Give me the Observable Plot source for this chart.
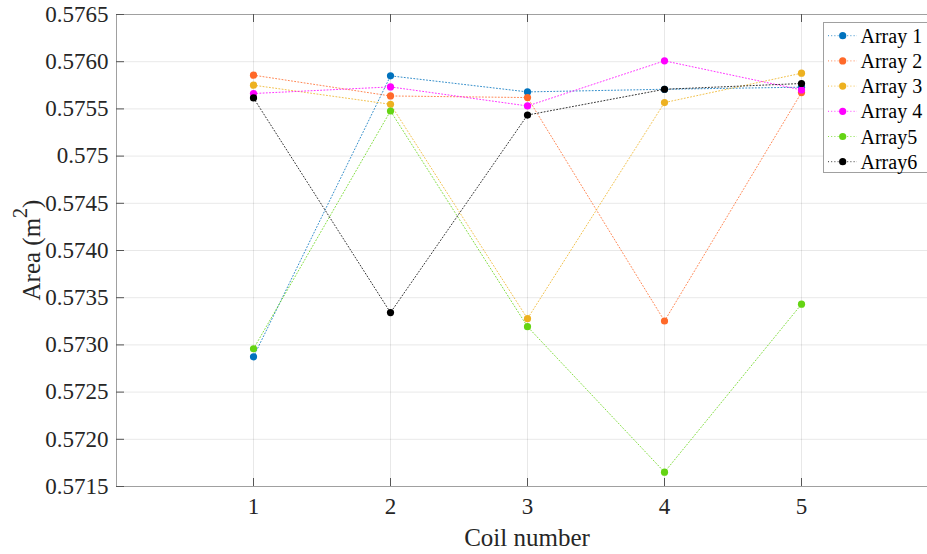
<!DOCTYPE html>
<html><head><meta charset="utf-8">
<script src="https://cdn.jsdelivr.net/npm/d3@7"></script>
<script src="https://cdn.jsdelivr.net/npm/@observablehq/plot@0.6"></script>
<style>body{margin:0;background:#fff}</style>
</head><body><div id="chart"></div>
<script>
const coils = [1, 2, 3, 4, 5];
const seriesNames = ["Array 1", "Array 2", "Array 3", "Array 4", "Array5", "Array6"];
const array1 = [0.572874, 0.575850, 0.575680, 0.575708, 0.575730];
const array2 = [0.575857, 0.575637, 0.575620, 0.573253, 0.575673];
const array3 = [0.575751, 0.575549, 0.573278, 0.575567, 0.575878];
const array4 = [0.575663, 0.575733, 0.575531, 0.576009, 0.575701];
const array5 = [0.572959, 0.575478, 0.573193, 0.571652, 0.573431];
const array6 = [0.575616, 0.573342, 0.575435, 0.575708, 0.575769];
const seriesColors = ["#0072BD", "#FF6929", "#EDB120", "#FF00FF", "#64D413", "#000000"];
const xTicks = [1, 2, 3, 4, 5];
const xTickLabels = ["1", "2", "3", "4", "5"];
const yTicks = [0.5715, 0.5720, 0.5725, 0.5730, 0.5735, 0.5740, 0.5745, 0.5750, 0.5755, 0.5760, 0.5765];
const yTickLabels = ["0.5715", "0.5720", "0.5725", "0.5730", "0.5735", "0.5740", "0.5745", "0.575", "0.5755", "0.5760", "0.5765"];

const allSeries = [array1, array2, array3, array4, array5, array6];
const rows = allSeries.map((vals, s) => vals.map((v, i) => ({series: seriesNames[s], coil: coils[i], area: v})));

const W = 927, H = 554, mL = 116, mT = 14, mB = 68, mR = -11;
const innerH = H - mT - mB, innerW = W - mL - mR;

const seriesMarks = rows.flatMap((data, s) => [
  Plot.line(data, {x: "coil", y: "area", stroke: seriesColors[s], strokeWidth: 1, strokeDasharray: "1,2.2", strokeOpacity: 0.8}),
  Plot.dot(data, {x: "coil", y: "area", fill: seriesColors[s], r: 3.6, stroke: "none"})
]);

const chart = Plot.plot({
  width: W, height: H,
  marginLeft: mL, marginTop: mT, marginBottom: mB, marginRight: mR,
  style: {fontFamily: "'Liberation Serif', 'DejaVu Serif', serif", fontSize: "23px", color: "#262626", background: "#fff"},
  x: {domain: [0, 6]},
  y: {domain: [0.5715, 0.5765]},
  marks: [
    Plot.gridX(xTicks, {stroke: "#000", strokeOpacity: 0.09}),
    Plot.gridY(yTicks, {stroke: "#000", strokeOpacity: 0.09}),
    Plot.frame({stroke: "#a0a0a0"}),
    Plot.tickX(xTicks, {x: d => d, insetTop: innerH - 8, stroke: "#555"}),
    Plot.tickX(xTicks, {x: d => d, insetBottom: innerH - 8, stroke: "#555"}),
    Plot.tickY(yTicks, {y: d => d, insetRight: innerW - 8, stroke: "#555"}),
    Plot.axisX(xTicks, {tickSize: 0, tickPadding: 11, label: null, fill: "#262626", tickFormat: d => xTickLabels[xTicks.indexOf(d)]}),
    Plot.axisY(yTicks, {tickSize: 0, tickPadding: 8, label: null, fill: "#262626", tickFormat: d => yTickLabels[yTicks.indexOf(d)]}),
    ...seriesMarks
  ]
});
document.getElementById("chart").append(chart);

const svg = d3.select(chart);
// x label
svg.append("text").attr("x", 527).attr("y", 537).attr("text-anchor", "middle")
  .attr("dominant-baseline", "central").attr("font-size", 25).attr("fill", "#262626").text("Coil number");
// y label with superscript
const yl = svg.append("text").attr("transform", "translate(31,250) rotate(-90)")
  .attr("text-anchor", "middle").attr("dominant-baseline", "central").attr("font-size", 25).attr("fill", "#262626");
yl.append("tspan").text("Area (m");
yl.append("tspan").attr("baseline-shift", "super").attr("font-size", 20).text("2");
yl.append("tspan").text(")");

// legend
const lg = svg.append("g");
lg.append("rect").attr("x", 823.5).attr("y", 22.5).attr("width", 110).attr("height", 150)
  .attr("fill", "#fff").attr("stroke", "#a0a0a0");
seriesNames.forEach((name, i) => {
  const y = 35.7 + i * 25.2;
  lg.append("line").attr("x1", 828).attr("x2", 857).attr("y1", y).attr("y2", y)
    .attr("stroke", seriesColors[i]).attr("stroke-dasharray", "1,2.2").attr("stroke-opacity", 0.8);
  lg.append("circle").attr("cx", 842.7).attr("cy", y).attr("r", 3.6).attr("fill", seriesColors[i]);
  lg.append("text").attr("x", 860.5).attr("y", y).attr("text-anchor", "start").attr("dominant-baseline", "central")
    .attr("font-size", 20).attr("fill", "#000").text(name);
});
</script></body></html>
